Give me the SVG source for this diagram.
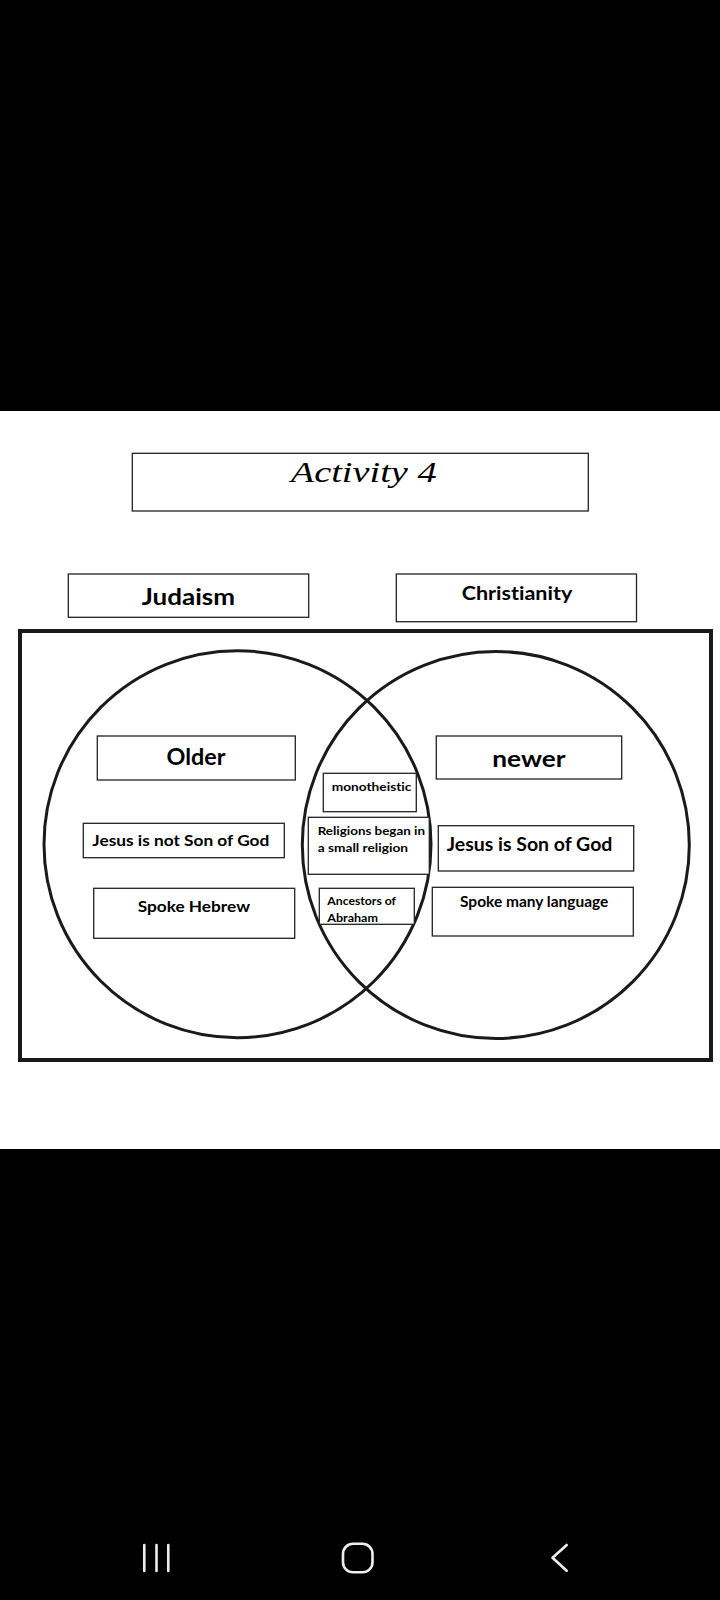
<svg xmlns="http://www.w3.org/2000/svg" width="720" height="1600" viewBox="0 0 720 1600">
<style>
.box{fill:#fff;stroke:#222;stroke-width:1.3}
.t{font-family:Lato,"Open Sans","Liberation Sans",sans-serif;font-weight:bold;fill:#000;font-variant-ligatures:none;font-feature-settings:"liga" 0}
.nav{fill:none;stroke:#eee;stroke-width:2.6;stroke-linecap:round;stroke-linejoin:round}
</style>
<rect x="0" y="0" width="720" height="1600" fill="#fff"/>
<rect x="0" y="0" width="720" height="411" fill="#000"/>
<rect x="0" y="1149" width="720" height="451" fill="#000"/>

<g id="title">
<rect class="box" x="132.3" y="453.3" width="456" height="57.7"/>
<text x="290.7" y="481.7" font-family="'Liberation Serif',serif" font-style="italic" font-size="30" textLength="146" lengthAdjust="spacingAndGlyphs">Activity 4</text>
</g>
<g id="judaism">
<rect class="box" x="68.3" y="574" width="240.4" height="43.3"/>
<text class="t" x="141.7" y="605" font-size="23" textLength="93.3" lengthAdjust="spacingAndGlyphs">Judaism</text>
</g>
<g id="christianity">
<rect class="box" x="396.3" y="574" width="240.2" height="47.7"/>
<text class="t" x="461.7" y="600" font-size="19.5" textLength="110.6" lengthAdjust="spacingAndGlyphs">Christianity</text>
</g>

<g id="frame">
<rect x="20" y="631" width="691" height="429" fill="none" stroke="#1a1a1a" stroke-width="4"/>
</g>
<g id="circles">
<circle cx="237.5" cy="844.2" r="193.5" fill="none" stroke="#1a1a1a" stroke-width="3"/>
<circle cx="495.8" cy="845" r="193.5" fill="none" stroke="#1a1a1a" stroke-width="3"/>
</g>

<g id="older">
<rect class="box" x="97.3" y="736" width="198" height="44"/>
<text class="t" x="196" y="765" font-size="23" text-anchor="middle" textLength="59" lengthAdjust="spacingAndGlyphs">Older</text>
</g>
<g id="not-son">
<rect class="box" x="83.3" y="823.3" width="201" height="34.4"/>
<text class="t" x="92.3" y="846" font-size="16" textLength="177" lengthAdjust="spacingAndGlyphs">Jesus is not Son of God</text>
</g>
<g id="hebrew">
<rect class="box" x="93.7" y="888.3" width="201" height="50"/>
<text class="t" x="137.7" y="911.7" font-size="16" textLength="112.3" lengthAdjust="spacingAndGlyphs">Spoke Hebrew</text>
</g>

<g id="newer">
<rect class="box" x="436.3" y="736" width="185.4" height="43"/>
<text class="t" x="492.3" y="767.3" font-size="23" textLength="73.3" lengthAdjust="spacingAndGlyphs">newer</text>
</g>
<g id="son">
<rect class="box" x="438.3" y="825.7" width="195.4" height="45.3"/>
<text class="t" x="446.7" y="850.7" font-size="18.5" textLength="165.7" lengthAdjust="spacingAndGlyphs">Jesus is Son of God</text>
</g>
<g id="many-lang">
<rect class="box" x="432.3" y="887.3" width="201" height="48.7"/>
<text class="t" x="460" y="907.3" font-size="14.5" textLength="148.3" lengthAdjust="spacingAndGlyphs">Spoke many language</text>
</g>

<g id="monotheistic">
<rect class="box" x="323.3" y="773.3" width="93" height="38.4"/>
<text class="t" x="331.7" y="790.7" font-size="11" textLength="79.7" lengthAdjust="spacingAndGlyphs">monotheistic</text>
</g>
<g id="began">
<rect class="box" x="308.3" y="817.3" width="121" height="57"/>
<text class="t" x="317.7" y="835" font-size="11" textLength="107.3" lengthAdjust="spacingAndGlyphs">Religions began in</text>
<text class="t" x="317.7" y="851.7" font-size="11" textLength="90.3" lengthAdjust="spacingAndGlyphs">a small religion</text>
</g>
<g id="ancestors">
<rect class="box" x="319.3" y="888.3" width="95" height="36"/>
<text class="t" x="327.3" y="905" font-size="11" textLength="68.7" lengthAdjust="spacingAndGlyphs">Ancestors of</text>
<text class="t" x="327.3" y="921.7" font-size="11" textLength="50.7" lengthAdjust="spacingAndGlyphs">Abraham</text>
</g>

<g id="navbar">
<line class="nav" x1="144.3" y1="1545" x2="144.3" y2="1571"/>
<line class="nav" x1="156.5" y1="1545" x2="156.5" y2="1571"/>
<line class="nav" x1="168.3" y1="1545" x2="168.3" y2="1571"/>
<rect class="nav" x="343" y="1543.8" width="29.5" height="28.5" rx="10"/>
<polyline class="nav" points="566.7,1545 552.5,1557.8 566.7,1570.7"/>
</g>
</svg>
